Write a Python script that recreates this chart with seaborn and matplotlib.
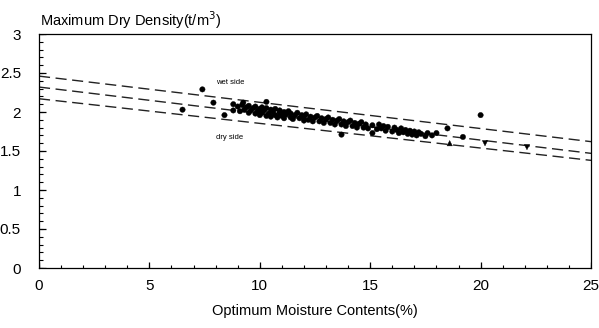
import matplotlib
matplotlib.use("Agg")
import matplotlib.pyplot as plt
import seaborn as sns
import pandas as pd
import numpy as np

# ---- data ----
moisture = [8.8, 8.8, 9.0, 9.1, 9.2, 9.3, 9.4, 9.5, 9.5, 9.6, 9.7, 9.8, 9.8, 9.9,
            10.0, 10.0, 10.1, 10.1, 10.2, 10.3, 10.3, 10.4, 10.5, 10.5, 10.6, 10.7,
            10.7, 10.8, 10.9, 10.9, 11.0, 11.1, 11.1, 11.2, 11.3, 11.4, 11.4, 11.5,
            11.6, 11.7, 11.8, 11.9, 12.0, 12.0, 12.1, 12.2, 12.3, 12.4, 12.5, 12.6,
            12.7, 12.8, 12.9, 13.0, 13.1, 13.2, 13.3, 13.4, 13.5, 13.6, 13.7, 13.8,
            13.9, 14.0, 14.1, 14.2, 14.3, 14.4, 14.5, 14.6, 14.7, 14.8, 14.9, 15.1,
            15.3, 15.4, 15.5, 15.6, 15.7, 15.8, 16.0, 16.1, 16.2, 16.3, 16.4, 16.5,
            16.6, 16.7, 16.8, 16.9, 17.0, 17.1, 17.2, 17.3, 17.5, 17.6, 17.8,
            6.5, 7.4, 7.9, 8.4, 9.25, 10.3, 13.7, 15.1, 18.0, 18.5, 19.2, 18.6,
            20.0, 20.2, 22.1]
density = [2.10, 2.02, 2.07, 2.01, 2.09, 2.03, 2.06, 1.99, 2.08, 2.02, 2.05, 1.98, 2.07, 2.01,
           2.04, 1.96, 2.06, 1.99, 2.02, 1.95, 2.05, 1.98, 2.03, 1.94, 2.00, 1.96,
           2.04, 1.93, 1.99, 2.02, 1.95, 2.00, 1.92, 1.97, 2.01, 1.93, 1.98, 1.91,
           1.96, 1.99, 1.92, 1.96, 1.89, 1.94, 1.97, 1.90, 1.94, 1.88, 1.93, 1.95,
           1.88, 1.92, 1.86, 1.91, 1.93, 1.86, 1.90, 1.84, 1.89, 1.91, 1.84, 1.88,
           1.82, 1.87, 1.89, 1.82, 1.86, 1.80, 1.85, 1.87, 1.80, 1.84, 1.79, 1.83,
           1.78, 1.84, 1.79, 1.82, 1.76, 1.81, 1.75, 1.80, 1.77, 1.73, 1.79, 1.74,
           1.77, 1.72, 1.76, 1.71, 1.75, 1.70, 1.74, 1.72, 1.69, 1.73, 1.70,
           2.03, 2.29, 2.12, 1.96, 2.12, 2.13, 1.71, 1.73, 1.73, 1.79, 1.68, 1.60,
           1.96, 1.60, 1.55]
marker_kind = ["o"] * 108 + ["^", "o", "v", "v"]

line_x = [0, 25]
upper_line = [2.46, 1.62]
middle_line = [2.32, 1.47]
lower_line = [2.17, 1.38]

x_ticks = [0, 5, 10, 15, 20, 25]
x_tick_labels = ["0", "5", "10", "15", "20", "25"]
y_ticks = [0, 0.5, 1, 1.5, 2, 2.5, 3]
y_tick_labels = ["0", "0.5", "1", "1.5", "2", "2.5", "3"]
x_minor_step = 1
y_minor_step = 0.1

# ---- plotting ----
sns.set_theme(style="ticks", rc={"xtick.direction": "in", "ytick.direction": "in",
                                 "xtick.color": "black", "ytick.color": "black",
                                 "xtick.major.pad": 8, "ytick.major.pad": 13,
                                 "xtick.labelsize": 11, "ytick.labelsize": 11})
plt.rcParams["font.family"] = ["Liberation Sans", "DejaVu Sans"]

fig = plt.figure(figsize=(5.99, 3.28), dpi=100)
ax = fig.add_axes([39 / 599, 1 - 268 / 328, (591 - 39) / 599, (268 - 34) / 328])

df = pd.DataFrame({"x": moisture, "y": density, "m": marker_kind})
sns.scatterplot(data=df, x="x", y="y", style="m",
                markers={"o": "o", "^": "^", "v": "v"},
                color="black", s=15, edgecolor="black", linewidth=0.3,
                legend=False, ax=ax, zorder=3)

for ly in (upper_line, middle_line, lower_line):
    sns.lineplot(x=line_x, y=ly, ax=ax, color="#222222", lw=1.0,
                 dashes=False, zorder=2)
for l in ax.lines:
    l.set_linestyle((0, (8, 4)))

x0, x1 = x_ticks[0], x_ticks[-1]
y0, y1 = y_ticks[0], y_ticks[-1]
ax.set_xlim(x0, x1)
ax.set_ylim(y0, y1)
ax.set_xticks(x_ticks)
ax.set_xticklabels(x_tick_labels)
ax.set_yticks(y_ticks)
ax.set_yticklabels(y_tick_labels)
ax.tick_params(axis="both", which="both", length=0)
ax.set_xlabel("")
ax.set_ylabel("")
for sp in ax.spines.values():
    sp.set_visible(True)
    sp.set_color("black")
    sp.set_linewidth(0.9)

# inward tick marks along the bottom and left spines, in data units
px_y = (y1 - y0) / 234.0   # one pixel, vertically
px_x = (x1 - x0) / 552.0   # one pixel, horizontally
x_minor = np.arange(x0, x1 + 1e-9, x_minor_step)
y_minor = np.arange(y0, y1 + 1e-9, y_minor_step)
for xv in x_minor:
    ax.plot([xv, xv], [y0, y0 + 3.5 * px_y], color="black", lw=0.8,
            solid_capstyle="butt", zorder=4)
for xv in x_ticks:
    ax.plot([xv, xv], [y0, y0 + 6.5 * px_y], color="black", lw=0.9,
            solid_capstyle="butt", zorder=4)
for yv in y_minor:
    ax.plot([x0, x0 + 4 * px_x], [yv, yv], color="black", lw=0.8,
            solid_capstyle="butt", zorder=4)
for yv in y_ticks:
    ax.plot([x0, x0 + 7 * px_x], [yv, yv], color="black", lw=0.9,
            solid_capstyle="butt", zorder=4)

ax.text(8.0, 2.36, "wet side", fontsize=5.5, color="black")
ax.text(8.0, 1.66, "dry side", fontsize=5.5, color="black")

fig.text(40 / 599, 1 - 20 / 328, r"Maximum Dry Density(t/m$^{3}$)", fontsize=10.5,
         ha="left", va="center", color="black")
fig.text((39 + 591) / 2 / 599, 1 - 311 / 328, "Optimum Moisture Contents(%)",
         fontsize=10.5, ha="center", va="center", color="black")

fig.savefig("out.png", dpi=100)
